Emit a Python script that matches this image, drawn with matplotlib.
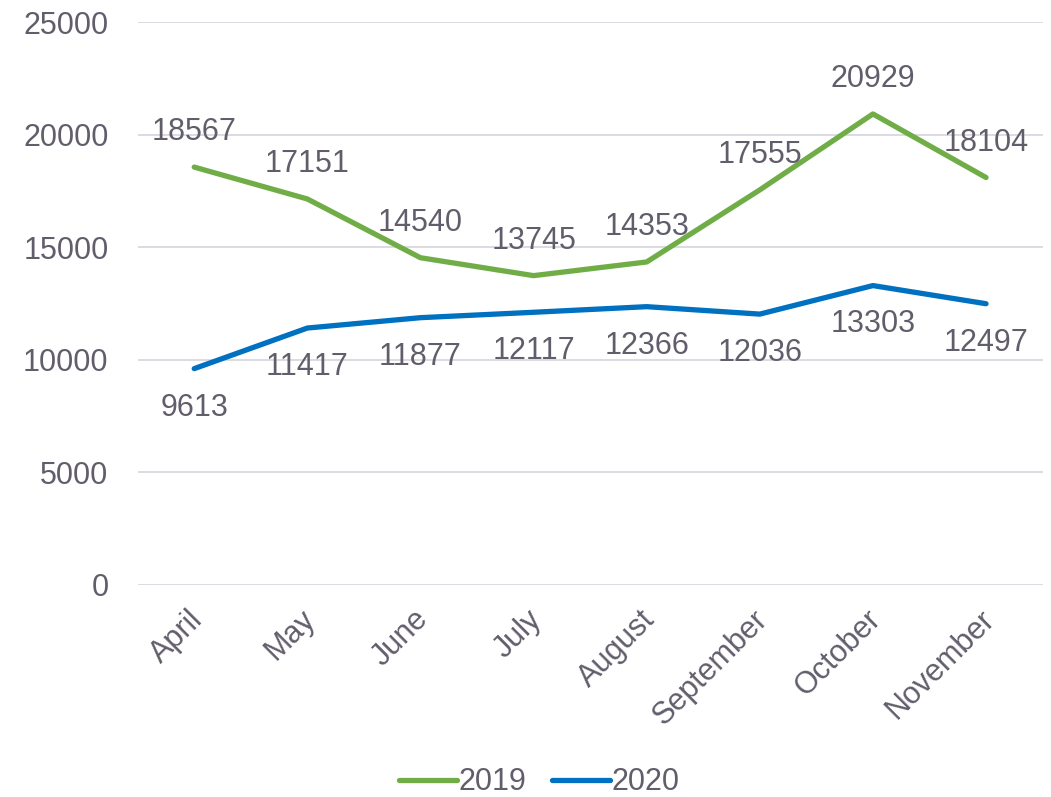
import matplotlib.pyplot as plt
import matplotlib.transforms as mtransforms
import numpy as np

plt.rcParams['font.family'] = ['Liberation Sans', 'DejaVu Sans']

months = ['April', 'May', 'June', 'July', 'August', 'September', 'October', 'November']
sales_2019 = [18567, 17151, 14540, 13745, 14353, 17555, 20929, 18104]
sales_2020 = [9613, 11417, 11877, 12117, 12366, 12036, 13303, 12497]

text_color = '#625d6b'
green = '#70ad47'
blue = '#0070c0'

fig = plt.figure(figsize=(10.51, 7.97), dpi=100)
ax = fig.add_axes([0.131, 0.266, 0.861, 0.706])

x = np.arange(len(months))
ax.plot(x, sales_2019, color=green, lw=3.8, solid_capstyle='round', solid_joinstyle='round', label='2019')
ax.plot(x, sales_2020, color=blue, lw=3.8, solid_capstyle='round', solid_joinstyle='round', label='2020')

# data labels: 2019 above, 2020 below
for xi, v in zip(x, sales_2019):
    ax.annotate(str(v), (xi, v), xytext=(0, 25), textcoords='offset points',
                ha='center', va='center', fontsize=22, color=text_color)
for xi, v in zip(x, sales_2020):
    ax.annotate(str(v), (xi, v), xytext=(0, -28), textcoords='offset points',
                ha='center', va='center', fontsize=22, color=text_color)

ax.set_xlim(-0.5, len(months) - 0.5)
ax.set_ylim(0, 25000)
ax.set_yticks(np.arange(0, 25001, 5000))
ax.set_xticks(x)
ax.set_xticklabels(months, rotation=45, ha='right', rotation_mode='anchor')
ax.tick_params(axis='both', length=0, labelsize=22, labelcolor=text_color)
ax.tick_params(axis='y', pad=21)
ax.tick_params(axis='x', pad=14)

# nudge rotated month labels a bit to the left
shift = mtransforms.ScaledTranslation(-7 / 100, 0, fig.dpi_scale_trans)
for lbl in ax.get_xticklabels():
    lbl.set_transform(lbl.get_transform() + shift)

ax.grid(axis='y', color='#d9d8df', lw=1.3)
ax.set_axisbelow(True)
for s in ax.spines.values():
    s.set_visible(False)

leg = fig.legend(loc='lower center', bbox_to_anchor=(0.513, -0.035), ncol=2, frameon=False,
                 fontsize=22, handlelength=1.9, handletextpad=0.05, columnspacing=0.85)
for t in leg.get_texts():
    t.set_color(text_color)

fig.savefig('out.png', dpi=100)
